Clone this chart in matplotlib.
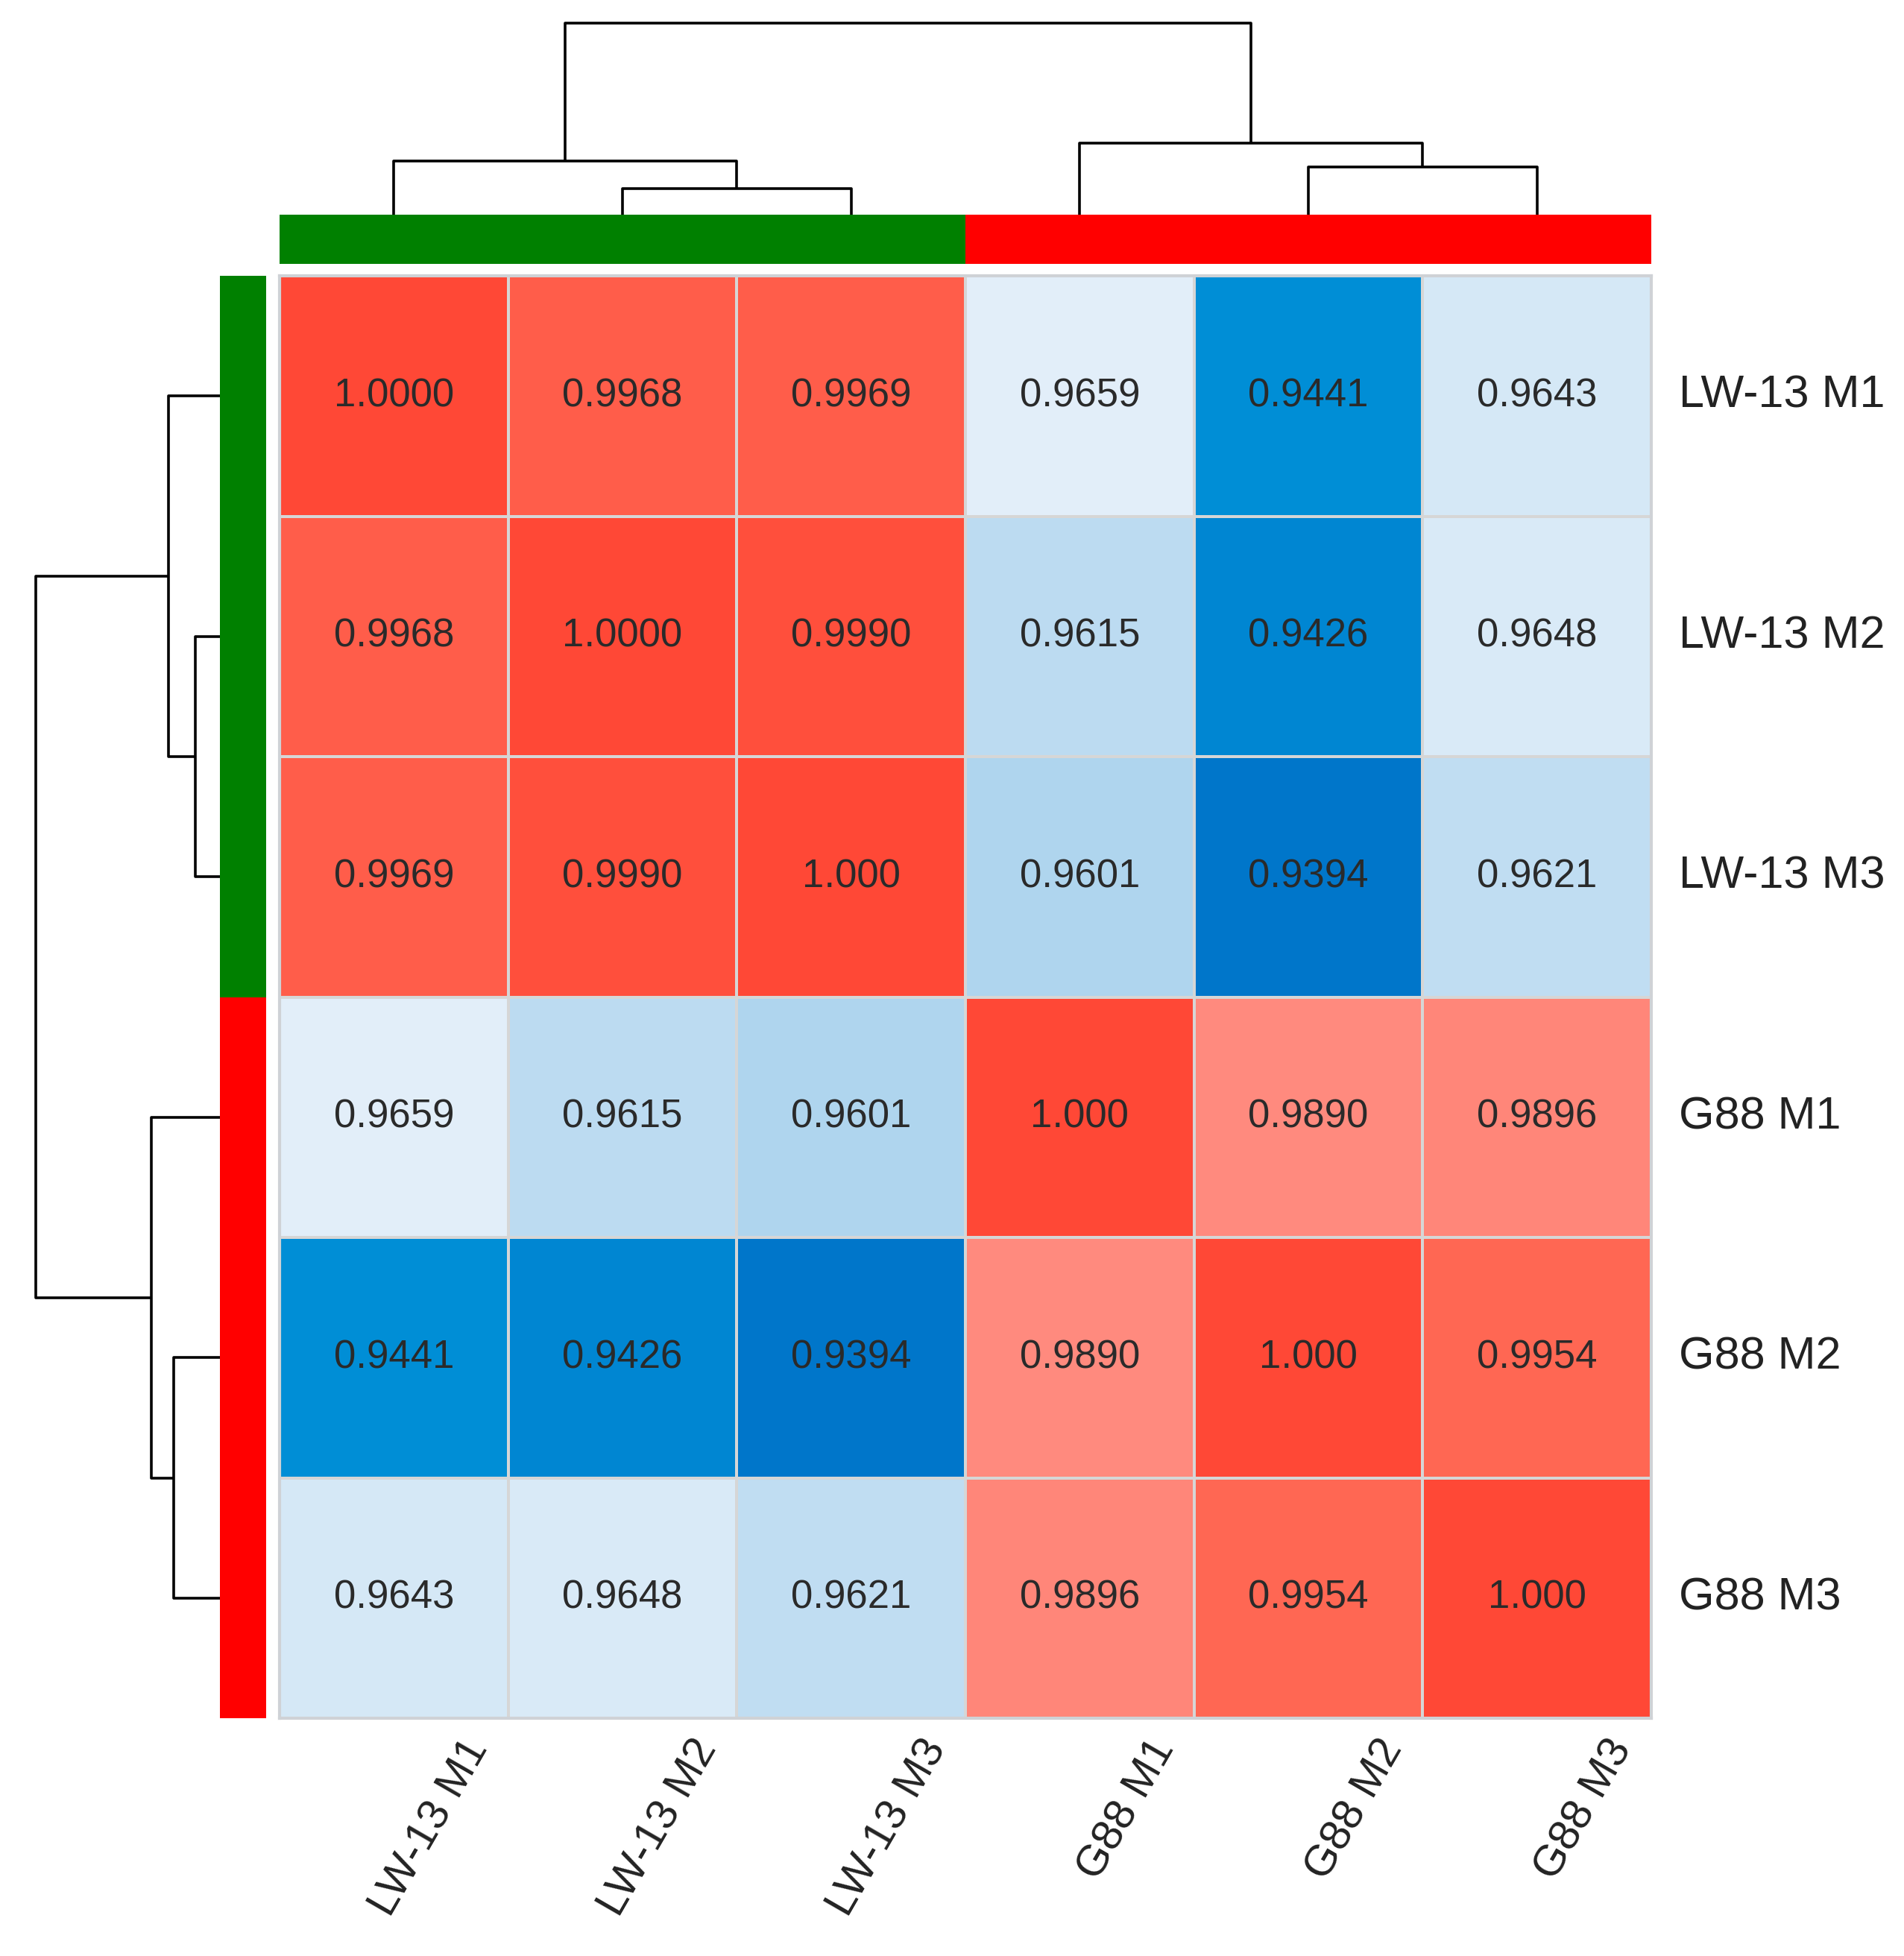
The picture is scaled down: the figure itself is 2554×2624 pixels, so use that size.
import numpy as np
import matplotlib.pyplot as plt
from matplotlib.colors import LinearSegmentedColormap, Normalize

plt.rcParams['font.family'] = ['Liberation Sans', 'DejaVu Sans']

labels = ['LW-13 M1', 'LW-13 M2', 'LW-13 M3', 'G88 M1', 'G88 M2', 'G88 M3']
groups = ['LW-13', 'LW-13', 'LW-13', 'G88', 'G88', 'G88']
group_colors = {'LW-13': '#008000', 'G88': '#ff0000'}

cell_text = [
    ['1.0000', '0.9968', '0.9969', '0.9659', '0.9441', '0.9643'],
    ['0.9968', '1.0000', '0.9990', '0.9615', '0.9426', '0.9648'],
    ['0.9969', '0.9990', '1.000', '0.9601', '0.9394', '0.9621'],
    ['0.9659', '0.9615', '0.9601', '1.000', '0.9890', '0.9896'],
    ['0.9441', '0.9426', '0.9394', '0.9890', '1.000', '0.9954'],
    ['0.9643', '0.9648', '0.9621', '0.9896', '0.9954', '1.000'],
]
corr = np.array([[float(s) for s in row] for row in cell_text])

# linkage: (child a, child b, height); ids >= 6 are earlier merges
merges = [(1, 2, 0.135), (0, 6, 0.28), (4, 5, 0.25), (3, 8, 0.373), (7, 9, 1.0)]

# colour stops of the heatmap palette (value, colour)
vmin, vmax = 0.9394, 1.0
stops = [(0.9394, '#0076ca'), (0.9441, '#008fd6'), (0.9601, '#afd5ee'),
         (0.9659, '#e3eff9'), (0.9890, '#ff8a7e'), (0.9954, '#ff6854'),
         (1.0, '#ff4836')]
cmap = LinearSegmentedColormap.from_list(
    'corr', [((v - vmin) / (vmax - vmin), c) for v, c in stops])
norm = Normalize(vmin, vmax)

W, H = 2554, 2624
fig = plt.figure(figsize=(W / 100, H / 100), dpi=100)


def frac(x0, y0, x1, y1):
    return [x0 / W, 1 - y1 / H, (x1 - x0) / W, (y1 - y0) / H]


ax = fig.add_axes(frac(375, 370, 2215, 2305))
ax_top = fig.add_axes(frac(375, 288, 2215, 354))
ax_left = fig.add_axes(frac(295, 370, 357, 2305))
ax_dt = fig.add_axes(frac(375, 31, 2215, 288))
ax_dl = fig.add_axes(frac(48, 370, 295, 2305))

n = len(labels)
ax.pcolormesh(np.arange(n + 1), np.arange(n + 1), corr, cmap=cmap, norm=norm,
              edgecolors='#d6d6d6', linewidth=1.6)
ax.set_xlim(0, n)
ax.set_ylim(n, 0)
ax.set_xticks([])
ax.set_yticks([])
for s in ax.spines.values():
    s.set_color('#cfd2d6')
    s.set_linewidth(3)
for i in range(n):
    for j in range(n):
        ax.text(j + 0.5, i + 0.5, cell_text[i][j], ha='center', va='center',
                fontsize=38, color='#2a2a2a')
    ax.text(n + 0.12, i + 0.5, labels[i], ha='left', va='center',
            fontsize=44, color='#222222', clip_on=False)
    ax.text(i + 0.95, n + 0.06, labels[i], ha='right', va='top', rotation=60,
            fontsize=42, color='#222222', clip_on=False)

# group colour bars
gcols = [group_colors[g] for g in groups]
for i, c in enumerate(gcols):
    ax_top.axvspan(i, i + 1, color=c, lw=0)
    ax_left.axhspan(i, i + 1, color=c, lw=0)
ax_top.set_xlim(0, n)
ax_left.set_ylim(n, 0)
for a in (ax_top, ax_left):
    a.set_axis_off()


def dendro_segments():
    pos = {i: i + 0.5 for i in range(n)}
    hgt = {i: 0.0 for i in range(n)}
    segs = []
    for k, (a, b, h) in enumerate(merges):
        pa, pb = pos[a], pos[b]
        segs.append(([pa, pa, pb, pb], [hgt[a], h, h, hgt[b]]))
        pos[n + k] = (pa + pb) / 2
        hgt[n + k] = h
    return segs


for p, h in dendro_segments():
    ax_dt.plot(p, h, color='black', lw=2.6, clip_on=False,
               solid_capstyle='butt')
    ax_dl.plot(h, p, color='black', lw=2.6, clip_on=False,
               solid_capstyle='butt')
ax_dt.set_xlim(0, n)
ax_dt.set_ylim(0, 1)
ax_dl.set_ylim(n, 0)
ax_dl.set_xlim(1, 0)
for a in (ax_dt, ax_dl):
    a.set_axis_off()

fig.savefig('out.png', dpi=100, facecolor='white')
